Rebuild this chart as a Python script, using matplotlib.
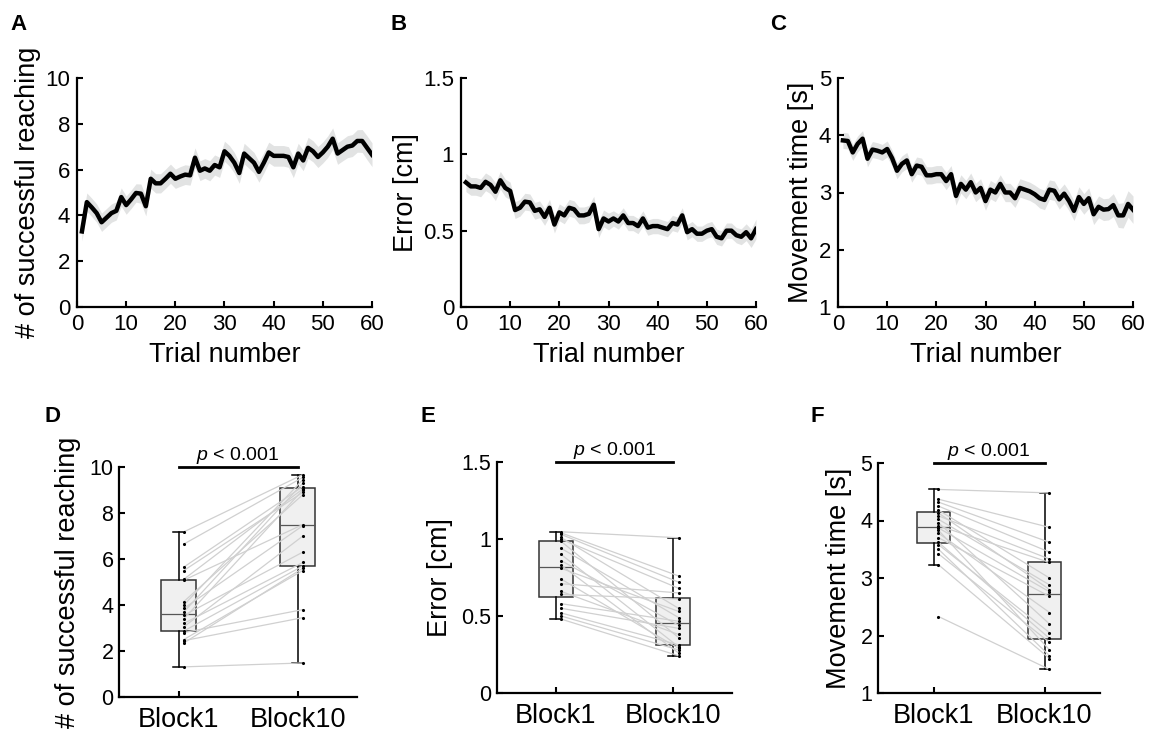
import numpy as np
import matplotlib.pyplot as plt

plt.rcParams["font.family"] = ["Liberation Sans", "DejaVu Sans"]
plt.rcParams["mathtext.fontset"] = "custom"
plt.rcParams["mathtext.it"] = "Liberation Sans:italic"
plt.rcParams["mathtext.rm"] = "Liberation Sans"

# ---- top row: mean +- SE over 60 trials ----
trials = list(range(1, 61))

succ_mean = [3.3, 4.58, 4.35, 4.1, 3.7, 3.9, 4.1, 4.2, 4.8, 4.45,
             4.7, 4.98, 4.95, 4.4, 5.6, 5.4, 5.4, 5.6, 5.82, 5.6,
             5.7, 5.78, 5.75, 6.52, 5.95, 6.05, 5.95, 6.2, 6.1, 6.8,
             6.6, 6.3, 5.85, 6.7, 6.5, 6.3, 5.9, 6.3, 6.75, 6.6,
             6.6, 6.6, 6.55, 6.1, 6.7, 6.4, 6.95, 6.8, 6.55, 6.75,
             7.0, 7.35, 6.7, 6.85, 7.0, 7.05, 7.25, 7.25, 6.95, 6.65]
succ_se = [0.42, 0.40, 0.40, 0.40, 0.40, 0.40, 0.40, 0.40, 0.40, 0.40,
           0.40, 0.40, 0.42, 0.42, 0.42, 0.42, 0.42, 0.42, 0.42, 0.42,
           0.43, 0.43, 0.43, 0.43, 0.43, 0.43, 0.44, 0.44, 0.44, 0.44,
           0.45, 0.45, 0.45, 0.45, 0.45, 0.45, 0.45, 0.45, 0.45, 0.45,
           0.45, 0.45, 0.45, 0.45, 0.45, 0.45, 0.46, 0.46, 0.46, 0.46,
           0.47, 0.47, 0.47, 0.47, 0.48, 0.48, 0.49, 0.50, 0.52, 0.52]

err_mean = [0.816, 0.79, 0.79, 0.78, 0.82, 0.80, 0.755, 0.83, 0.78, 0.76,
            0.635, 0.65, 0.69, 0.685, 0.63, 0.64, 0.59, 0.65, 0.54, 0.62,
            0.60, 0.65, 0.64, 0.60, 0.60, 0.61, 0.67, 0.51, 0.58, 0.56,
            0.58, 0.56, 0.60, 0.55, 0.55, 0.53, 0.58, 0.52, 0.53, 0.53,
            0.52, 0.51, 0.55, 0.54, 0.60, 0.49, 0.51, 0.48, 0.48, 0.50,
            0.51, 0.46, 0.45, 0.50, 0.50, 0.47, 0.46, 0.49, 0.45, 0.51]
err_se = [0.060, 0.058, 0.058, 0.058, 0.058, 0.058, 0.058, 0.058, 0.058, 0.058,
          0.055, 0.055, 0.055, 0.055, 0.055, 0.055, 0.055, 0.055, 0.055, 0.055,
          0.055, 0.055, 0.055, 0.055, 0.055, 0.055, 0.055, 0.055, 0.055, 0.055,
          0.050, 0.050, 0.050, 0.050, 0.050, 0.050, 0.050, 0.050, 0.050, 0.050,
          0.050, 0.050, 0.050, 0.050, 0.050, 0.050, 0.050, 0.050, 0.050, 0.050,
          0.050, 0.050, 0.050, 0.050, 0.050, 0.050, 0.052, 0.055, 0.060, 0.065]

mt_mean = [3.91, 3.90, 3.70, 3.85, 3.94, 3.59, 3.75, 3.73, 3.70, 3.76,
           3.60, 3.38, 3.50, 3.56, 3.32, 3.47, 3.45, 3.30, 3.30, 3.32,
           3.32, 3.20, 3.32, 2.94, 3.15, 3.05, 3.18, 3.00, 3.08, 2.85,
           3.05, 3.00, 3.15, 3.00, 3.00, 2.90, 3.08, 3.05, 3.02, 2.97,
           2.90, 2.87, 3.05, 3.03, 2.88, 2.98, 2.85, 2.68, 2.92, 2.80,
           2.90, 2.62, 2.75, 2.70, 2.71, 2.78, 2.60, 2.60, 2.80, 2.70]
mt_se = [0.14, 0.14, 0.14, 0.14, 0.14, 0.14, 0.14, 0.14, 0.14, 0.14,
         0.14, 0.14, 0.14, 0.14, 0.14, 0.15, 0.15, 0.15, 0.15, 0.15,
         0.15, 0.15, 0.15, 0.16, 0.16, 0.16, 0.16, 0.16, 0.16, 0.16,
         0.16, 0.16, 0.16, 0.16, 0.16, 0.16, 0.16, 0.16, 0.16, 0.16,
         0.17, 0.17, 0.17, 0.17, 0.17, 0.17, 0.17, 0.17, 0.18, 0.18,
         0.18, 0.18, 0.19, 0.19, 0.19, 0.20, 0.21, 0.22, 0.23, 0.24]

# ---- bottom row: per-subject block values ----
blocks = ["Block1", "Block10"]

succ_b1 = [1.31, 2.35, 2.45, 2.5, 2.8, 2.87, 3.05, 3.2, 3.4, 3.55,
           3.7, 3.85, 4.0, 4.15, 5.08, 5.12, 5.5, 5.65, 6.65, 7.18]
succ_b10 = [1.48, 5.6, 3.45, 5.5, 3.8, 5.7, 7.0, 5.85, 9.0, 6.3,
            9.3, 7.45, 9.45, 8.8, 7.5, 9.05, 8.9, 9.15, 9.55, 9.67]

err_b1 = [1.047, 1.04, 1.03, 1.01, 1.0, 0.985, 0.94, 0.90, 0.86, 0.83,
          0.81, 0.74, 0.71, 0.66, 0.64, 0.58, 0.55, 0.52, 0.50, 0.48]
err_b10 = [1.008, 0.76, 0.72, 0.55, 0.68, 0.36, 0.49, 0.30, 0.44, 0.26,
           0.53, 0.29, 0.65, 0.38, 0.61, 0.466, 0.42, 0.313, 0.28, 0.242]

mt_b1 = [4.54, 4.37, 4.32, 4.25, 4.18, 4.13, 4.08, 4.02, 3.96, 3.91,
         3.87, 3.83, 3.78, 3.70, 3.62, 3.58, 3.50, 3.42, 3.23, 2.33]
mt_b10 = [4.48, 3.88, 3.62, 3.45, 3.00, 2.80, 3.33, 2.88, 2.20, 3.27,
          2.76, 1.75, 2.40, 2.68, 1.95, 2.05, 1.65, 1.88, 1.60, 1.41]

W, H = 1157, 731
fig = plt.figure(figsize=(W / 100, H / 100), dpi=100)


def rect(x0, x1, ytop, ybot):
    return [x0 / W, 1 - ybot / H, (x1 - x0) / W, (ybot - ytop) / H]


def style(ax, ticksize):
    for s in ["top", "right"]:
        ax.spines[s].set_visible(False)
    for s in ["left", "bottom"]:
        ax.spines[s].set_linewidth(1.6)
    ax.tick_params(direction="in", length=4, width=1.5, labelsize=ticksize, pad=5)


def letter_text(name, x, y):
    fig.text(x / W, 1 - y / H, name, fontsize=16, fontweight="bold", va="baseline")


def trend(ax, mean, se, ylim, yticks, yticklabels, ylabel):
    m = np.array(mean)
    s = np.array(se)
    ax.fill_between(trials, m - s, m + s, color="#e2e3e3", lw=0)
    ax.plot(trials, m, color="black", lw=3.2)
    ax.set_xlim(0, 60)
    ax.set_ylim(*ylim)
    ax.set_xticks(range(0, 61, 10))
    ax.set_yticks(yticks)
    ax.set_yticklabels(yticklabels)
    style(ax, 16)
    ax.set_xlabel("Trial number", fontsize=19.5, labelpad=5)
    ax.set_ylabel(ylabel, fontsize=19.5, labelpad=3)


def paired(ax, b1, b10, ylim, yticks, yticklabels, ylabel):
    bp = ax.boxplot([b1, b10], positions=[1, 2], widths=0.29, showfliers=False,
                    patch_artist=True, whis=1.5, capwidths=0.09)
    for b in bp["boxes"]:
        b.set(facecolor="#f0f0f0", edgecolor="#333333", lw=1.1)
    for w in bp["whiskers"]:
        w.set(color="black", lw=1.1)
    for c in bp["caps"]:
        c.set(color="black", lw=1.1)
    for md in bp["medians"]:
        md.set(color="#555555", lw=0.9)
    off = 0.045
    for a, b in zip(b1, b10):
        ax.plot([1 + off, 2 + off], [a, b], color="#d0d0d0", lw=0.9, zorder=3)
    ax.scatter([1 + off] * len(b1), b1, s=5, color="black", zorder=4, lw=0)
    ax.scatter([2 + off] * len(b10), b10, s=5, color="black", zorder=4, lw=0)
    ax.set_xlim(0.5, 2.5)
    ax.set_ylim(*ylim)
    ax.set_xticks([1, 2])
    ax.set_xticklabels(blocks)
    ax.set_yticks(yticks)
    ax.set_yticklabels(yticklabels)
    style(ax, 15.5)
    ax.tick_params(axis="x", labelsize=19.5, pad=7)
    ax.tick_params(axis="y", pad=4)
    ax.set_ylabel(ylabel, fontsize=19.5, labelpad=6)
    top = ylim[1]
    ax.plot([1, 2], [top, top], color="black", lw=2, clip_on=False)
    ax.annotate("$p$ < 0.001", xy=(1.5, top), xytext=(0, 1), textcoords="offset points",
                ha="center", va="bottom", fontsize=14, annotation_clip=False)


axA = fig.add_axes(rect(77, 372, 78, 307))
axB = fig.add_axes(rect(461, 756, 78, 307))
axC = fig.add_axes(rect(838, 1133, 78, 307))
axD = fig.add_axes(rect(119, 357, 467, 697))
axE = fig.add_axes(rect(497, 732, 462, 693))
axF = fig.add_axes(rect(878, 1100, 463, 693))

trend(axA, succ_mean, succ_se, (0, 10), [0, 2, 4, 6, 8, 10],
      ["0", "2", "4", "6", "8", "10"], "# of successful reaching")
trend(axB, err_mean, err_se, (0, 1.5), [0, 0.5, 1, 1.5],
      ["0", "0.5", "1", "1.5"], "Error [cm]")
trend(axC, mt_mean, mt_se, (1, 5), [1, 2, 3, 4, 5],
      ["1", "2", "3", "4", "5"], "Movement time [s]")

paired(axD, succ_b1, succ_b10, (0, 10), [0, 2, 4, 6, 8, 10],
       ["0", "2", "4", "6", "8", "10"], "# of successful reaching")
paired(axE, err_b1, err_b10, (0, 1.5), [0, 0.5, 1, 1.5],
       ["0", "0.5", "1", "1.5"], "Error [cm]")
paired(axF, mt_b1, mt_b10, (1, 5), [1, 2, 3, 4, 5],
       ["1", "2", "3", "4", "5"], "Movement time [s]")

letter_text("A", 10, 30)
letter_text("B", 390, 30)
letter_text("C", 770, 30)
letter_text("D", 45, 422)
letter_text("E", 420, 422)
letter_text("F", 810, 422)

fig.savefig("out.png", dpi=100)
